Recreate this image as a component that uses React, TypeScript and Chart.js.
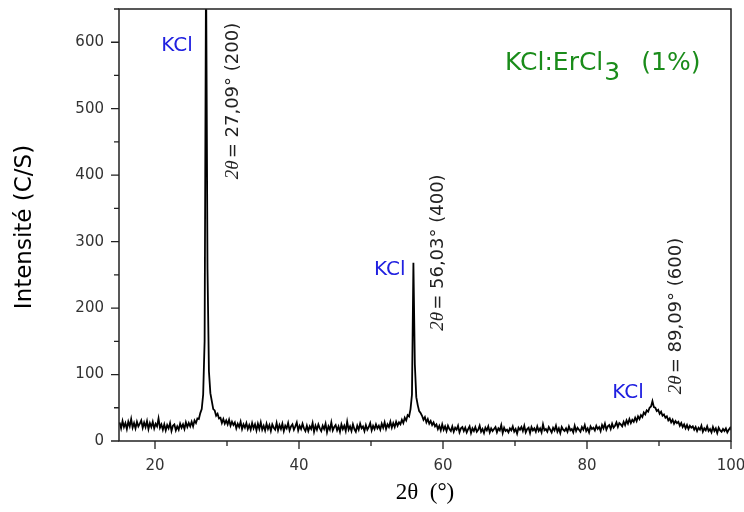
import React, { useEffect, useRef } from "react";
import { Chart, registerables } from "chart.js";

Chart.register(...registerables);

// 2θ sampling grid (degrees)
const X_START = 15.09;
const X_STEP = 0.2;

// Intensity (C/S), one value per grid step
const intensity: number[] = [
  28, 19, 30, 21, 27, 18, 29, 22, 33, 20,
  27, 19, 29, 22, 26, 31, 20, 28, 21, 30,
  18, 27, 21, 29, 19, 26, 22, 34, 20, 25,
  17, 25, 16, 24, 19, 27, 15, 23, 25, 16,
  22, 17, 26, 20, 25, 18, 28, 21, 27, 22,
  29, 22, 31, 27, 34, 33, 42, 48, 70, 150,
  720, 260, 105, 72, 60, 48, 46, 38, 41, 34,
  35, 27, 33, 26, 31, 25, 32, 23, 29, 24,
  28, 19, 26, 21, 29, 18, 25, 20, 27, 18,
  24, 17, 27, 19, 25, 16, 26, 18, 28, 17,
  23, 16, 26, 18, 24, 15, 25, 20, 17, 27,
  16, 24, 18, 26, 15, 23, 19, 27, 16, 22,
  25, 17, 22, 28, 16, 23, 18, 26, 19, 15,
  23, 15, 22, 18, 27, 14, 23, 17, 25, 19,
  15, 23, 18, 26, 13, 22, 17, 28, 16, 21,
  24, 16, 22, 14, 25, 18, 23, 15, 29, 17,
  22, 15, 25, 18, 14, 23, 17, 26, 19, 22,
  15, 24, 17, 21, 27, 16, 23, 18, 25, 19,
  23, 17, 26, 20, 28, 18, 25, 21, 29, 20,
  27, 21, 29, 23, 28, 25, 32, 27, 35, 31,
  39, 37, 48, 70, 268, 115, 66, 54, 45, 42,
  38, 32, 36, 28, 33, 26, 30, 24, 28, 22,
  25, 18, 23, 16, 25, 17, 22, 15, 23, 18,
  15, 22, 14, 20, 17, 23, 13, 19, 21, 15,
  20, 13, 18, 22, 12, 19, 15, 21, 14, 17,
  23, 14, 18, 12, 20, 16, 22, 13, 19, 15,
  18, 21, 13, 19, 16, 24, 12, 20, 15, 17,
  13, 19, 16, 22, 14, 18, 11, 20, 17, 21,
  15, 23, 13, 18, 20, 12, 21, 16, 19, 14,
  22, 15, 19, 13, 25, 16, 18, 14, 21, 17,
  13, 20, 16, 23, 14, 19, 12, 21, 17, 15,
  19, 14, 22, 16, 18, 13, 23, 15, 20, 17,
  14, 21, 17, 24, 15, 19, 13, 22, 18, 20,
  16, 23, 18, 21, 15, 24, 19, 26, 17, 22,
  24, 18, 26, 20, 23, 28, 21, 27, 25, 22,
  29, 24, 31, 26, 33, 27, 32, 29, 35, 30,
  37, 33, 39, 36, 43, 40, 46, 44, 50, 52,
  60, 51, 50, 45, 47, 41, 44, 38, 40, 35,
  37, 31, 34, 28, 32, 26, 30, 27, 29, 23,
  27, 21, 25, 19, 24, 18, 23, 20, 22, 17,
  21, 15, 20, 17, 23, 14, 19, 16, 22, 15,
  18, 13, 21, 15, 19, 12, 20, 16, 14, 18,
  15, 19, 13, 17, 20, 16,
];

const X_MIN = 15;
const X_MAX = 100;
const Y_MIN = 0;
const Y_MAX = 650;

const xMajorTicks = [20, 40, 60, 80, 100];
const xMinorTicks = [30, 50, 70, 90];
const yMajorTicks = [0, 100, 200, 300, 400, 500, 600];
const yMinorTicks = [50, 150, 250, 350, 450, 550, 650];

const phaseLabels = [
  { x: 23.06, y: 594, text: "KCl" },
  { x: 52.6, y: 257, text: "KCl" },
  { x: 85.7, y: 72.5, text: "KCl" },
];

const peakLabels = [
  { x: 30.83, y: 511.6, text: "= 27,09° (200)" },
  { x: 59.3, y: 283.6, text: "= 56,03° (400)" },
  { x: 92.36, y: 188.1, text: "= 89,09° (600)" },
];

const SAMPLE_MAIN = "KCl:ErCl";
const SAMPLE_SUB = "3";
const SAMPLE_TAIL = "(1%)";
const SAMPLE_POS = { x: 68.61, y: 558.2 };

const Y_TITLE = "Intensité (C/S)";
const X_TITLE = "2θ  (°)";

const SANS = "'DejaVu Sans', 'Liberation Sans', sans-serif";
const SERIF = "'Liberation Serif', 'DejaVu Serif', serif";

const decorPlugin = {
  id: "decor",
  afterDatasetsDraw(chart: any) {
    const { ctx, chartArea: a } = chart;
    const xs = chart.scales.x;
    const ys = chart.scales.y;
    ctx.save();

    // frame
    ctx.strokeStyle = "#222";
    ctx.lineWidth = 1.5;
    ctx.strokeRect(a.left, a.top, a.right - a.left, a.bottom - a.top);

    // tick marks (outside)
    ctx.lineWidth = 1.3;
    ctx.beginPath();
    xMajorTicks.forEach((v) => {
      const p = xs.getPixelForValue(v);
      ctx.moveTo(p, a.bottom);
      ctx.lineTo(p, a.bottom + 8);
    });
    xMinorTicks.forEach((v) => {
      const p = xs.getPixelForValue(v);
      ctx.moveTo(p, a.bottom);
      ctx.lineTo(p, a.bottom + 5);
    });
    yMajorTicks.forEach((v) => {
      const p = ys.getPixelForValue(v);
      ctx.moveTo(a.left, p);
      ctx.lineTo(a.left - 8, p);
    });
    yMinorTicks.forEach((v) => {
      const p = ys.getPixelForValue(v);
      ctx.moveTo(a.left, p);
      ctx.lineTo(a.left - 5, p);
    });
    ctx.stroke();

    // phase labels
    ctx.fillStyle = "#2020e0";
    ctx.font = `20px ${SANS}`;
    ctx.textAlign = "center";
    ctx.textBaseline = "middle";
    phaseLabels.forEach((l) => {
      ctx.fillText(l.text, xs.getPixelForValue(l.x), ys.getPixelForValue(l.y));
    });

    // peak labels (rotated)
    ctx.fillStyle = "#222";
    ctx.textAlign = "left";
    peakLabels.forEach((l) => {
      const cx = xs.getPixelForValue(l.x);
      const cy = ys.getPixelForValue(l.y);
      const fSerif = `italic 19px ${SERIF}`;
      const fSans = `18px ${SANS}`;
      ctx.font = fSerif;
      const w1 = ctx.measureText("2θ").width;
      ctx.font = fSans;
      const w2 = ctx.measureText(l.text).width;
      const gap = 2;
      const total = w1 + gap + w2;
      ctx.save();
      ctx.translate(cx, cy);
      ctx.rotate(-Math.PI / 2);
      ctx.font = fSerif;
      ctx.fillText("2θ", -total / 2, 0);
      ctx.font = fSans;
      ctx.fillText(l.text, -total / 2 + w1 + gap, 0);
      ctx.restore();
    });

    // sample label
    ctx.fillStyle = "#1a8c1a";
    ctx.textBaseline = "alphabetic";
    ctx.textAlign = "left";
    ctx.font = `25px ${SANS}`;
    let sx = xs.getPixelForValue(SAMPLE_POS.x);
    const sy = ys.getPixelForValue(SAMPLE_POS.y);
    ctx.fillText(SAMPLE_MAIN, sx, sy);
    sx += ctx.measureText(SAMPLE_MAIN).width + 1;
    ctx.fillText(SAMPLE_SUB, sx, sy + 10);
    sx += ctx.measureText(SAMPLE_SUB).width + 21;
    ctx.fillText(SAMPLE_TAIL, sx, sy);

    // axis titles
    ctx.fillStyle = "#000";
    ctx.textAlign = "center";
    ctx.textBaseline = "middle";
    ctx.save();
    ctx.translate(25, (a.top + a.bottom) / 2 + 2);
    ctx.rotate(-Math.PI / 2);
    ctx.font = `23px ${SANS}`;
    ctx.fillText(Y_TITLE, 0, 0);
    ctx.restore();

    ctx.font = `23px ${SERIF}`;
    ctx.fillText(X_TITLE, (a.left + a.right) / 2, 493);

    ctx.restore();
  },
};

function zeroPadding(s: any) {
  s.paddingLeft = 0;
  s.paddingRight = 0;
  s.paddingTop = 0;
  s.paddingBottom = 0;
}

export default function App() {
  const canvasRef = useRef<HTMLCanvasElement | null>(null);

  useEffect(() => {
    if (!canvasRef.current) return;
    const points = intensity.map((v, i) => ({ x: X_START + i * X_STEP, y: v }));
    const chart = new Chart(canvasRef.current, {
      type: "line",
      data: {
        datasets: [
          {
            data: points,
            borderColor: "#000",
            borderWidth: 1.8,
            pointRadius: 0,
            tension: 0,
            fill: false,
          },
        ],
      },
      options: {
        animation: false,
        responsive: true,
        maintainAspectRatio: false,
        layout: { padding: { left: 0, top: 9, right: 13, bottom: 0 } },
        plugins: {
          legend: { display: false },
          tooltip: { enabled: false },
        },
        scales: {
          x: {
            type: "linear",
            min: X_MIN,
            max: X_MAX,
            grid: { display: false, drawTicks: false },
            border: { display: false },
            afterBuildTicks: (s: any) => {
              s.ticks = xMajorTicks.map((v) => ({ value: v }));
            },
            afterFit: (s: any) => {
              s.height = 71;
              zeroPadding(s);
            },
            ticks: {
              padding: 16,
              maxRotation: 0,
              autoSkip: false,
              color: "#333",
              font: { family: SANS, size: 15 },
              callback: (v: any) => String(v),
            },
          },
          y: {
            type: "linear",
            min: Y_MIN,
            max: Y_MAX,
            grid: { display: false, drawTicks: false },
            border: { display: false },
            afterBuildTicks: (s: any) => {
              s.ticks = yMajorTicks.map((v) => ({ value: v }));
            },
            afterFit: (s: any) => {
              s.width = 119;
              zeroPadding(s);
            },
            ticks: {
              padding: 15,
              autoSkip: false,
              color: "#333",
              font: { family: SANS, size: 15 },
              callback: (v: any) => String(v),
            },
          },
        },
      },
      plugins: [decorPlugin],
    });
    return () => chart.destroy();
  }, []);

  return (
    <div
      style={{
        position: "fixed",
        left: 0,
        top: 0,
        width: 744,
        height: 512,
        background: "#fff",
      }}
    >
      <canvas ref={canvasRef} />
    </div>
  );
}
